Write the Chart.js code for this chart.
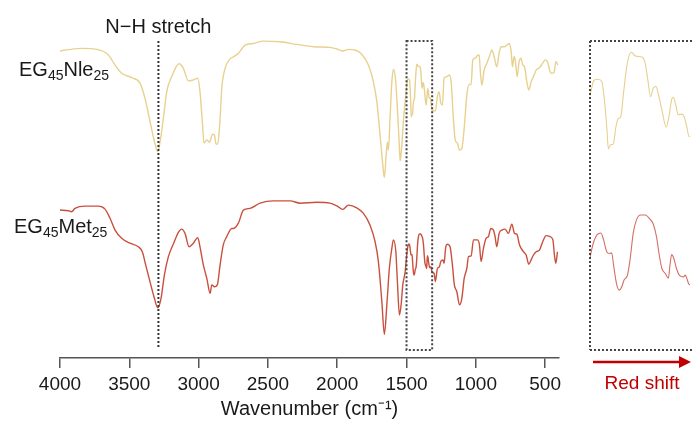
<!DOCTYPE html>
<html>
<head>
<meta charset="utf-8">
<script src="https://cdn.jsdelivr.net/npm/chart.js@4.4.1/dist/chart.umd.min.js"></script>
<style>
  html, body { margin: 0; padding: 0; background: #fff; }
  #wrap { position: relative; width: 692px; height: 433px; overflow: hidden; }
  #mainChart { position: absolute; left: 0; top: 0; }
  #insetChart { position: absolute; left: 584px; top: 0; }
</style>
</head>
<body>
<div id="wrap">
  <canvas id="mainChart" width="692" height="433"></canvas>
  <canvas id="insetChart" width="108" height="433"></canvas>
</div>
<script>
// wavenumber ticks (cm-1)
const tickValues = [4000, 3500, 3000, 2500, 2000, 1500, 1000, 500];

// marked positions
const nhStretch = 3290;
const zoomRange = [1500, 1315];

// EG45Nle25 (upper trace), arbitrary transmittance units
const nleWavenumber = [
  4000, 3940, 3843, 3724, 3651, 3603, 3555, 3483, 3423, 3387,
  3350, 3314, 3295, 3278, 3254, 3230, 3194, 3141, 3110, 3074,
  3038, 3006, 2990, 2973, 2961, 2941, 2923, 2898, 2886, 2874,
  2862, 2845, 2833, 2809, 2773, 2749, 2713, 2665, 2605, 2533,
  2412, 2292, 2172, 2052, 2003, 1960, 1919, 1871, 1823, 1775,
  1739, 1714, 1691, 1671, 1660, 1647, 1638, 1631, 1619, 1606,
  1595, 1580, 1566, 1551, 1546, 1534, 1523, 1503,
  1497, 1493, 1485, 1478, 1474, 1469, 1466, 1462, 1457, 1452,
  1448, 1443, 1438, 1432, 1427, 1423, 1417, 1411, 1404, 1398,
  1393, 1388, 1383, 1378, 1374, 1367, 1359, 1354, 1349, 1346,
  1341, 1337, 1330, 1326, 1321, 1317,
  1292, 1277, 1265, 1253, 1241, 1229, 1209, 1191, 1178, 1162,
  1149, 1133, 1118, 1101, 1084, 1065, 1048, 1034, 1022, 1005,
  989, 976, 969, 957, 940, 921, 902, 885, 868, 849,
  832, 818, 796, 776, 760, 745, 736, 724, 714, 702,
  688, 675, 661, 649, 632, 618, 601, 584, 565, 541,
  519, 500, 483, 464, 452, 435, 423, 408
];
const nleSignal = [
  93.6, 94.0, 94.4, 94.0, 92.4, 89.3, 86.8, 85.5, 83.8, 79.2,
  72.0, 65.2, 62.9, 65.9, 73.1, 81.2, 85.8, 89.7, 88.3, 84.5,
  84.8, 85.3, 81.2, 72.0, 65.5, 66.5, 65.8, 68.2, 68.0, 65.2,
  65.2, 73.1, 82.2, 88.3, 91.2, 91.8, 92.9, 95.4, 95.9, 96.6,
  96.4, 95.6, 94.9, 94.7, 94.2, 93.6, 94.1, 93.9, 92.6, 89.3,
  84.2, 78.1, 68.0, 58.8, 55.0, 61.9, 65.8, 63.4, 73.1, 84.2,
  88.0, 85.3, 76.1, 63.9, 60.1, 64.9, 72.0, 81.2,
  83.6, 84.9, 85.1, 84.7, 82.2, 77.2, 73.5, 74.2, 74.3, 77.2,
  78.5, 78.9, 82.8, 87.2, 89.2, 89.6, 89.0, 88.9, 88.8, 87.8,
  85.0, 82.2, 83.6, 83.9, 82.8, 80.0, 77.1, 78.9, 81.7, 82.1,
  80.7, 79.2, 79.3, 78.9, 77.2, 75.6,
  75.3, 79.7, 81.2, 77.7, 77.1, 85.3, 85.8, 86.3, 84.2, 73.1,
  66.5, 65.5, 63.4, 63.9, 70.0, 80.2, 83.4, 83.4, 90.9, 91.4,
  92.2, 92.4, 88.3, 83.2, 87.8, 89.8, 91.9, 93.9, 91.9, 88.8,
  92.9, 94.9, 94.9, 95.4, 95.9, 93.4, 88.8, 91.9, 90.3, 85.8,
  90.3, 91.4, 89.3, 88.8, 84.2, 81.7, 84.2, 85.8, 87.8, 88.5,
  89.8, 90.9, 90.3, 87.3, 86.8, 87.1, 90.3, 89.3
];

// EG45Met25 (lower trace)
const metWavenumber = [
  4000, 3940, 3916, 3892, 3820, 3724, 3675, 3639, 3603, 3555,
  3495, 3435, 3406, 3382, 3351, 3319, 3295, 3271, 3247, 3218,
  3175, 3146, 3122, 3098, 3069, 3038, 3006, 2990, 2966, 2941,
  2917, 2905, 2886, 2865, 2845, 2822, 2797, 2761, 2749, 2713,
  2677, 2629, 2557, 2461, 2340, 2268, 2147, 2052, 1992, 1960,
  1919, 1859, 1811, 1763, 1727, 1703, 1678, 1660, 1642, 1624,
  1606, 1595, 1577, 1566, 1551, 1539, 1527, 1510,
  1497, 1493, 1487, 1480, 1475, 1469, 1464, 1460, 1456, 1451,
  1446, 1441, 1437, 1431, 1426, 1420, 1414, 1406, 1398, 1389,
  1383, 1377, 1372, 1367, 1361, 1355, 1352, 1349, 1345, 1340,
  1334, 1327, 1324, 1321, 1317,
  1301, 1292, 1277, 1263, 1253, 1238, 1229, 1217, 1205, 1186,
  1169, 1155, 1137, 1118, 1101, 1084, 1065, 1053, 1034, 1017,
  989, 974, 962, 945, 926, 909, 892, 873, 861, 849,
  832, 812, 789, 765, 740, 721, 704, 685, 673, 656,
  637, 618, 601, 584, 565, 541, 517, 493, 464, 444,
  433, 423, 411
];
const metSignal = [
  45.1, 44.9, 44.6, 45.6, 46.3, 46.3, 45.4, 42.6, 39.0, 36.5,
  35.0, 33.9, 32.4, 28.4, 23.3, 18.2, 15.3, 18.2, 25.3, 30.9,
  35.5, 38.3, 39.3, 38.0, 33.9, 35.0, 36.7, 33.9, 28.4, 24.3,
  19.7, 22.3, 21.7, 22.3, 28.4, 34.5, 37.0, 39.5, 39.5, 41.1,
  45.1, 45.6, 47.2, 47.9, 47.9, 47.2, 47.5, 47.2, 46.1, 45.3,
  46.6, 45.8, 44.1, 40.5, 35.5, 29.4, 17.2, 7.2, 16.2, 27.3,
  33.4, 36.0, 32.4, 23.3, 13.1, 16.2, 22.3, 26.3,
  32.0, 33.4, 34.5, 34.8, 33.7, 31.7, 31.4, 31.5, 29.2, 26.4,
  25.3, 25.9, 27.0, 27.7, 30.3, 34.8, 37.0, 37.8, 37.8, 37.1,
  36.3, 34.2, 31.2, 28.9, 28.1, 27.3, 29.5, 31.2, 30.6, 28.9,
  27.7, 27.5, 27.8, 27.3, 26.3,
  25.8, 23.3, 27.3, 27.8, 29.4, 29.9, 28.9, 33.9, 34.7, 33.9,
  28.4, 22.3, 20.2, 16.2, 18.2, 24.3, 27.3, 30.9, 31.1, 36.0,
  36.0, 34.5, 29.4, 33.4, 36.5, 37.0, 39.5, 39.0, 37.0, 33.9,
  38.0, 39.0, 39.3, 38.0, 40.8, 38.0, 37.7, 34.5, 33.4, 32.4,
  31.4, 28.6, 29.9, 31.4, 32.4, 32.9, 35.5, 37.3, 37.0, 36.0,
  31.4, 28.9, 32.4
];

Chart.defaults.font.family = '"Liberation Sans", Arial, Helvetica, sans-serif';
Chart.defaults.color = '#1a1a1a';

const toPoints = (xs, ys) => xs.map((x, i) => ({ x: x, y: ys[i] }));

const dotted = (ctx, x1, y1, x2, y2) => {
  ctx.beginPath();
  ctx.moveTo(x1, y1);
  ctx.lineTo(x2, y2);
  ctx.stroke();
};

// label with subscripts, parts = [text, isSub]
const subLabel = (ctx, parts, x, y) => {
  let cx = x;
  parts.forEach(([txt, sub]) => {
    ctx.font = (sub ? '14px' : '20px') + ' "Liberation Sans", Arial, sans-serif';
    ctx.fillText(txt, cx, sub ? y + 4 : y);
    cx += ctx.measureText(txt).width;
  });
};

const mainDecor = {
  id: 'mainDecor',
  afterDatasetsDraw(chart) {
    const { ctx, scales: { x } } = chart;
    ctx.save();
    ctx.strokeStyle = '#333';
    ctx.lineWidth = 2;
    ctx.setLineDash([2, 2]);

    const nh = x.getPixelForValue(nhStretch);
    dotted(ctx, nh, 41, nh, 349);

    const bx1 = x.getPixelForValue(zoomRange[0]);
    const bx2 = x.getPixelForValue(zoomRange[1]);
    ctx.strokeStyle = '#444';
    ctx.strokeRect(bx1, 41, bx2 - bx1, 309);
    ctx.setLineDash([]);

    ctx.fillStyle = '#1a1a1a';
    ctx.textBaseline = 'alphabetic';
    ctx.textAlign = 'center';
    ctx.font = '20px "Liberation Sans", Arial, sans-serif';
    ctx.fillText('N\u2212H stretch', nh, 33);

    ctx.textAlign = 'left';
    subLabel(ctx, [['EG', 0], ['45', 1], ['Nle', 0], ['25', 1]], 19, 76);
    subLabel(ctx, [['EG', 0], ['45', 1], ['Met', 0], ['25', 1]], 14, 233);
    ctx.restore();
  }
};

const insetDecor = {
  id: 'insetDecor',
  afterDatasetsDraw(chart) {
    const { ctx, chartArea, width } = chart;
    const left = chartArea.left;
    ctx.save();
    ctx.strokeStyle = '#444';
    ctx.lineWidth = 2;
    ctx.setLineDash([2, 2]);
    dotted(ctx, left, 41, left, 350);
    dotted(ctx, left, 41, width, 41);
    dotted(ctx, left, 350, width, 350);
    ctx.setLineDash([]);

    // red shift arrow
    const red = '#c00000';
    ctx.strokeStyle = red;
    ctx.fillStyle = red;
    ctx.lineWidth = 2.5;
    dotted(ctx, left + 3, 362, width - 10, 362);
    ctx.beginPath();
    ctx.moveTo(width - 13, 356);
    ctx.lineTo(width - 1, 362);
    ctx.lineTo(width - 13, 368);
    ctx.closePath();
    ctx.fill();

    ctx.font = '19px "Liberation Sans", Arial, sans-serif';
    ctx.textAlign = 'center';
    ctx.fillText('Red shift', left + 52, 389);
    ctx.restore();
  }
};

new Chart(document.getElementById('mainChart'), {
  type: 'line',
  data: {
    datasets: [
      {
        label: 'EG45Nle25',
        data: toPoints(nleWavenumber, nleSignal),
        borderColor: '#e8d18f',
        borderWidth: 1.4,
        pointRadius: 0,
        cubicInterpolationMode: 'monotone'
      },
      {
        label: 'EG45Met25',
        data: toPoints(metWavenumber, metSignal),
        borderColor: '#c9503e',
        borderWidth: 1.4,
        pointRadius: 0,
        cubicInterpolationMode: 'monotone'
      }
    ]
  },
  options: {
    responsive: false,
    animation: false,
    layout: { padding: { left: 60, right: 133, top: 30, bottom: 0 } },
    scales: {
      x: {
        type: 'linear',
        reverse: true,
        min: 400,
        max: 4000,
        afterBuildTicks: axis => { axis.ticks = tickValues.map(v => ({ value: v })); },
        afterFit: scale => { scale.height = 75; },
        grid: { drawOnChartArea: false, drawTicks: true, tickLength: 10, color: '#555', lineWidth: 1.5 },
        border: { display: true, color: '#555', width: 1.5 },
        ticks: {
          padding: 5,
          autoSkip: false,
          maxRotation: 0,
          color: '#1a1a1a',
          font: { size: 19 },
          callback: v => String(v)
        },
        title: {
          display: true,
          text: 'Wavenumber (cm\u207B\u00B9)',
          color: '#1a1a1a',
          font: { size: 20 },
          padding: { top: 0, bottom: 12 }
        }
      },
      y: { display: false, min: 0, max: 100 }
    },
    plugins: { legend: { display: false }, tooltip: { enabled: false } }
  },
  plugins: [mainDecor]
});

// zoomed view of the boxed region, same spectra
new Chart(document.getElementById('insetChart'), {
  type: 'line',
  data: {
    datasets: [
      {
        data: toPoints(nleWavenumber, nleSignal),
        yAxisID: 'yNle',
        borderColor: '#e6d08e',
        borderWidth: 1.1,
        pointRadius: 0,
        cubicInterpolationMode: 'monotone'
      },
      {
        data: toPoints(metWavenumber, metSignal),
        yAxisID: 'yMet',
        borderColor: '#d46f63',
        borderWidth: 1.1,
        pointRadius: 0,
        cubicInterpolationMode: 'monotone'
      }
    ]
  },
  options: {
    responsive: false,
    animation: false,
    layout: { padding: { left: 6, right: 2, top: 30, bottom: 75 } },
    scales: {
      x: { type: 'linear', display: false, reverse: true, min: zoomRange[1], max: zoomRange[0] },
      yNle: { display: false, min: 38.7, max: 93.3 },
      yMet: { display: false, min: 14.0, max: 68.6 }
    },
    plugins: { legend: { display: false }, tooltip: { enabled: false } }
  },
  plugins: [insetDecor]
});
</script>
</body>
</html>
